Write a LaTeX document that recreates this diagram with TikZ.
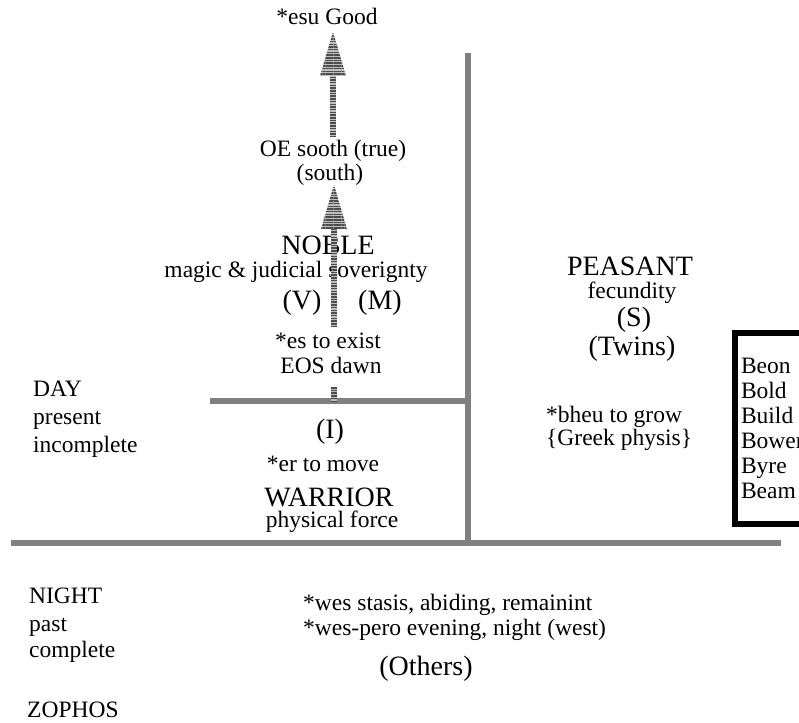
\documentclass[tikz,border=0pt]{standalone}
\usepackage{fontspec}
\setmainfont{Liberation Serif}
\usetikzlibrary{patterns.meta}

\begin{document}
\begin{tikzpicture}[x=1pt, y=-1pt,
  txt/.style={inner sep=0pt, font=\fontsize{23.5}{28}\selectfont},
  big/.style={inner sep=0pt, font=\fontsize{28}{32}\selectfont},
  rule/.style={draw=black!50, line width=5.5pt},
  shaft/.style={draw=black!70, line width=6pt, dash pattern=on 1.5pt off 1.2pt,
    preaction={draw=black!25, line width=6pt, solid}},
  hatch/.style={fill=black!25, postaction={pattern={Lines[angle=0, distance=2.7pt, line width=1.5pt]}, pattern color=black!70}},
  wordbox/.style={draw, line width=6pt, anchor=north west, inner xsep=6pt,
    minimum width=100pt, minimum height=191pt, text width=88pt, align=left,
    font=\fontsize{23.5}{25}\selectfont},
  hatchhead/.pic={\path[hatch] (0,0) -- (-13,44) -- (13,44) -- cycle;}
]
\useasboundingbox (0,0) rectangle (799,722);

% the frame
\coordinate (colTop)  at (468, 53);
\coordinate (colFoot) at (468,543);
\coordinate (shelfL)  at (210,401);
\coordinate (shelfR)  at (468,401);
\coordinate (floorL)  at ( 11,543);
\coordinate (floorR)  at (781,543);
\draw[rule] (colTop) -- (colFoot);
\draw[rule] (shelfL) -- (shelfR);
\draw[rule] (floorL) -- (floorR);

% noble column
\node[txt, anchor=base] (good)  at (327, 25) {*esu Good};
\node[txt, anchor=base] (sooth) at (333,157) {OE sooth (true)};
\node[txt, anchor=base] (south) at (330,180) {(south)};
\node[big, anchor=base] (noble) at (328,254) {NOBLE};
\node[txt, anchor=base] (magic) at (296,277) {magic \& judicial soverignty};
\node[big, anchor=base] (vv)    at (302,309) {(V)};
\node[big, anchor=base] (mm)    at (380,309) {(M)};
\node[txt, anchor=base] (exist) at (328,348) {*es to exist};
\node[txt, anchor=base] (dawn)  at (331,373) {EOS dawn};

% warrior
\node[big, anchor=base] (ii)      at (330,438) {(I)};
\node[txt, anchor=base] (move)    at (323,471) {*er to move};
\node[big, anchor=base] (warrior) at (329,506) {WARRIOR};
\node[txt, anchor=base] (force)   at (332,527) {physical force};

% peasant
\node[big, anchor=base]      (peasant) at (630,275) {PEASANT};
\node[txt, anchor=base]      (fecund)  at (632,298) {fecundity};
\node[big, anchor=base]      (ss)      at (634,326) {(S)};
\node[big, anchor=base]      (twins)   at (632,355) {(Twins)};
\node[txt, anchor=base west] (grow)    at (546,422) {*bheu to grow};
\node[txt, anchor=base west] (physis)  at (546,445) {\{Greek physis\}};
\node[wordbox] (roots) at (732,330) {Beon\\Bold\\Build\\Bower\\Byre\\Beam};

% day and night
\node[txt, anchor=base west] (day)    at (33,396) {DAY};
\node[txt, anchor=base west] (pres)   at (33,424) {present};
\node[txt, anchor=base west] (incomp) at (33,452) {incomplete};
\node[txt, anchor=base west] (night)  at (29,603) {NIGHT};
\node[txt, anchor=base west] (past)   at (29,631) {past};
\node[txt, anchor=base west] (comp)   at (29,657) {complete};
\node[txt, anchor=base west] (zophos) at (27,717) {ZOPHOS};

\node[txt, anchor=base west] (stasis)  at (303,610) {*wes stasis, abiding, remainint};
\node[txt, anchor=base west] (evening) at (303,635) {*wes-pero evening, night (west)};
\node[big, anchor=base]      (others)  at (426,675) {(Others)};

% hatched arrows
\path (sooth.north |- good.base) ++(0,7) coordinate (upTip);
\path ([xshift=6pt]exist.north |- south.base) ++(0,5) coordinate (loTip);
\draw[shaft] ([yshift=3pt]sooth.north) -- ([yshift=-44pt]upTip);
\pic at (upTip) {hatchhead};
\draw[shaft] ([xshift=6pt, yshift=5pt]exist.north) -- ([yshift=-40pt]loTip);
\pic at (loTip) {hatchhead};
\draw[shaft] ([xshift=6pt]exist.north |- dawn.base) ++(0,14) -- ([xshift=-134pt]shelfR);
\end{tikzpicture}
\end{document}
